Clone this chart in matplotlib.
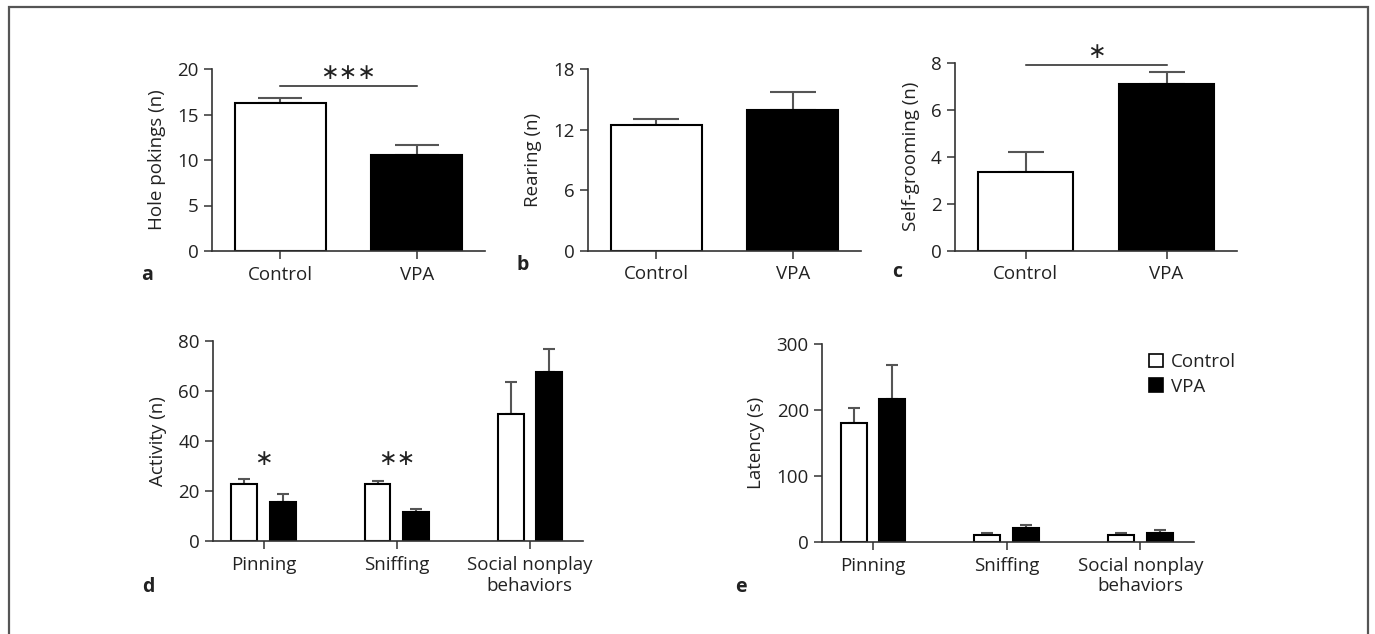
import matplotlib
matplotlib.use("Agg")
import matplotlib.pyplot as plt
from matplotlib.patches import Patch, Rectangle

plt.rcParams['font.family'] = ['Open Sans', 'DejaVu Sans']
plt.rcParams['font.size'] = 13.5
plt.rcParams['text.color'] = '#222222'
plt.rcParams['axes.labelcolor'] = '#222222'
plt.rcParams['xtick.color'] = '#333333'
plt.rcParams['ytick.color'] = '#333333'
plt.rcParams['xtick.labelcolor'] = '#222222'
plt.rcParams['ytick.labelcolor'] = '#222222'

# top row: two groups
groups = ['Control', 'VPA']
hole_mean = [16.3, 10.5]
hole_sem = [0.5, 1.1]
rear_mean = [12.5, 14.0]
rear_sem = [0.55, 1.7]
groom_mean = [3.34, 7.08]
groom_sem = [0.87, 0.54]

# bottom row: behaviours
behaviours = ['Pinning', 'Sniffing', 'Social nonplay\nbehaviors']
act_ctrl = [22.9, 22.9, 50.6]
act_ctrl_sem = [1.9, 1.3, 13.0]
act_vpa = [15.7, 11.6, 67.5]
act_vpa_sem = [3.3, 1.4, 9.1]
lat_ctrl = [180.2, 10.1, 10.1]
lat_ctrl_sem = [23.2, 3.6, 3.6]
lat_vpa = [217.5, 20.8, 14.1]
lat_vpa_sem = [50.5, 5.5, 4.6]

W, H = 1375, 634
fig = plt.figure(figsize=(W / 100, H / 100), dpi=100)

def px_axes(x0, x1, ytop, ybot):
    return fig.add_axes([x0 / W, (H - ybot) / H, (x1 - x0) / W, (ybot - ytop) / H])

def style(ax):
    for s in ['top', 'right']:
        ax.spines[s].set_visible(False)
    for s in ['left', 'bottom']:
        ax.spines[s].set_color('#333333')
        ax.spines[s].set_linewidth(1.2)
    ax.tick_params(axis='both', direction='out', length=5.5, width=1.1, labelsize=13.5, pad=4)
    ax.tick_params(axis='x', pad=5)

def two_bar(ax, means, sems, ylim, yticks, ylabel, cap):
    x = [0, 1]
    ax.bar(x, means, width=0.67, color=['white', 'black'], edgecolor='black', linewidth=1.5, zorder=2)
    ax.errorbar(x, means, yerr=[[0, 0], sems], fmt='none', ecolor='#555555',
                elinewidth=1.5, capsize=cap, capthick=1.5, zorder=1)
    ax.set_xlim(-0.5, 1.5)
    ax.set_ylim(*ylim)
    ax.set_yticks(yticks)
    ax.set_xticks(x)
    ax.set_xticklabels(groups)
    ax.set_ylabel(ylabel, labelpad=8)
    style(ax)

ax_a = px_axes(212, 485, 69, 251)
two_bar(ax_a, hole_mean, hole_sem, (0, 20), [0, 5, 10, 15, 20], 'Hole pokings (n)', 16)
ax_a.plot([0, 1], [18.1, 18.1], color='#222222', lw=1.1, clip_on=False)
ax_a.text(0.5, 19.6, '∗∗∗', ha='center', va='center', fontsize=16, family='DejaVu Sans', clip_on=False)

ax_b = px_axes(588, 861, 69.3, 250.7)
two_bar(ax_b, rear_mean, rear_sem, (0, 18), [0, 6, 12, 18], 'Rearing (n)', 16.5)

ax_c = px_axes(955, 1237, 62.7, 250.7)
two_bar(ax_c, groom_mean, groom_sem, (0, 8), [0, 2, 4, 6, 8], 'Self-grooming (n)', 13)
ax_c.plot([0, 1], [7.9, 7.9], color='#222222', lw=1.1, clip_on=False)
ax_c.text(0.5, 8.47, '∗', ha='center', va='center', fontsize=16, family='DejaVu Sans', clip_on=False)

def group_bars(ax, ctrl, ctrl_sem, vpa, vpa_sem, ylim, yticks, ylabel):
    x = list(range(len(behaviours)))
    xc = [i - 0.144 for i in x]
    xv = [i + 0.144 for i in x]
    ax.bar(xc, ctrl, width=0.195, color='white', edgecolor='black', linewidth=1.5, zorder=2, label='Control')
    ax.bar(xv, vpa, width=0.195, color='black', edgecolor='black', linewidth=1.5, zorder=2, label='VPA')
    ax.errorbar(xc, ctrl, yerr=[[0] * 3, ctrl_sem], fmt='none', ecolor='#555555',
                elinewidth=1.5, capsize=4.5, capthick=1.5, zorder=1)
    ax.errorbar(xv, vpa, yerr=[[0] * 3, vpa_sem], fmt='none', ecolor='#555555',
                elinewidth=1.5, capsize=4.5, capthick=1.5, zorder=1)
    ax.set_xlim(-0.38, 2.4)
    ax.set_ylim(*ylim)
    ax.set_yticks(yticks)
    ax.set_xticks(x)
    ax.set_xticklabels(behaviours, linespacing=1.2)
    ax.set_ylabel(ylabel, labelpad=8)
    style(ax)

ax_d = px_axes(213, 583, 340.7, 541.3)
group_bars(ax_d, act_ctrl, act_ctrl_sem, act_vpa, act_vpa_sem, (0, 80), [0, 20, 40, 60, 80], 'Activity (n)')
ax_d.text(0, 32.8, '∗', ha='center', va='center', fontsize=16, family='DejaVu Sans')
ax_d.text(1, 32.8, '∗∗', ha='center', va='center', fontsize=16, family='DejaVu Sans')

ax_e = px_axes(822, 1194, 344.3, 542)
group_bars(ax_e, lat_ctrl, lat_ctrl_sem, lat_vpa, lat_vpa_sem, (0, 300), [0, 100, 200, 300], 'Latency (s)')
handles = [Patch(facecolor='white', edgecolor='black', linewidth=1.2, label='Control'),
           Patch(facecolor='black', edgecolor='black', linewidth=1.2, label='VPA')]
fig.legend(handles=handles, loc='upper left', bbox_to_anchor=(1136 / W, (H - 340) / H),
           frameon=False, fontsize=13.5, handlelength=0.75, handleheight=0.75,
           handletextpad=0.4, labelspacing=0.35, borderpad=0.2)

# panel letters
for letter, x, y in [('a', 147, 280), ('b', 523, 270), ('c', 897, 277), ('d', 148, 592), ('e', 741, 592)]:
    fig.text(x / W, (H - y) / H, letter, ha='center', va='baseline', fontsize=14, fontweight='bold')

# outer frame
fig.patches.append(Rectangle((9 / W, -0.05), (1368 - 9) / W, (H - 7) / H + 0.05,
                             transform=fig.transFigure, fill=False, edgecolor='#555555', linewidth=1.6))

fig.savefig('out.png', dpi=100)
